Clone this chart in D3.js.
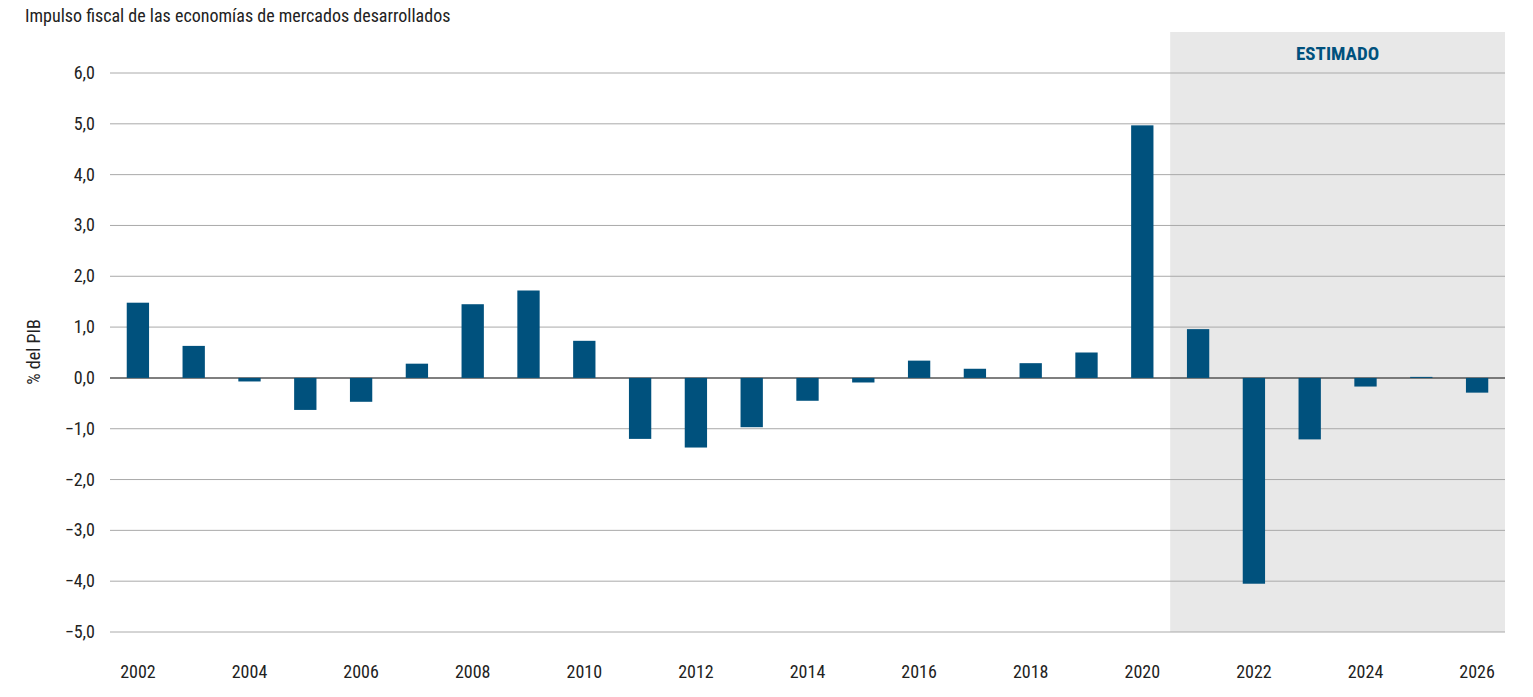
<!DOCTYPE html>
<html><head><meta charset="utf-8">
<script src="https://cdn.jsdelivr.net/npm/d3@7"></script>
<style>body{margin:0;background:#fff}text{font-family:"Roboto Condensed","Liberation Sans Narrow","Roboto",sans-serif}</style>
</head><body><svg id="c" width="1533" height="697"></svg>
<script>
const years=["2002","2003","2004","2005","2006","2007","2008","2009","2010","2011","2012","2013","2014","2015","2016","2017","2018","2019","2020","2021","2022","2023","2024","2025","2026"];
const values=[1.48,0.63,-0.07,-0.63,-0.47,0.28,1.45,1.72,0.73,-1.2,-1.37,-0.97,-0.45,-0.09,0.34,0.18,0.29,0.5,4.97,0.96,-4.05,-1.21,-0.17,0.02,-0.29];
const yTicks=[6,5,4,3,2,1,0,-1,-2,-3,-4,-5];
const estimateStart="2021";
const svg=d3.select("#c");
const L=110,R=1505,T=73,B=632;
const x=d3.scaleBand().domain(years).range([L,R]).paddingInner(0.6).paddingOuter(0.3);
const y=d3.scaleLinear().domain([-5,6]).range([B,T]);
const step=x.step();
svg.append("rect").attr("x",x(estimateStart)-step*x.paddingInner()/2).attr("y",32).attr("width",R-(x(estimateStart)-step*x.paddingInner()/2)).attr("height",B-32).attr("fill","#e8e8e8");
svg.append("text").attr("x",(x(estimateStart)-step*0.3+R)/2).attr("y",60).attr("text-anchor","middle").attr("font-size",19).attr("font-weight","bold").attr("fill","#00517d").text("ESTIMADO");
yTicks.forEach(t=>{svg.append("line").attr("x1",L).attr("x2",R).attr("y1",y(t)).attr("y2",y(t)).attr("stroke",t===0?"#555":"#aaa").attr("stroke-width",t===0?1.5:1);
svg.append("text").attr("x",95).attr("y",y(t)+6).attr("text-anchor","end").attr("font-size",18).attr("fill","#222").text(d3.format(".1f")(t).replace(".",",").replace("-","-"));});
svg.selectAll(".b").data(years).enter().append("rect").attr("x",d=>x(d)).attr("width",x.bandwidth()).attr("y",(d,i)=>y(Math.max(0,values[i]))).attr("height",(d,i)=>Math.abs(y(values[i])-y(0))).attr("fill","#00517d");
years.forEach((d,i)=>{if(i%2===0)svg.append("text").attr("x",x(d)+x.bandwidth()/2).attr("y",678).attr("text-anchor","middle").attr("font-size",18).attr("fill","#222").text(d);});
svg.append("text").attr("x",25).attr("y",22).attr("font-size",18).attr("fill","#222").text("Impulso fiscal de las economías de mercados desarrollados");
svg.append("text").attr("transform","translate(40,352) rotate(-90)").attr("text-anchor","middle").attr("font-size",18).attr("fill","#222").text("% del PIB");
</script></body></html>
